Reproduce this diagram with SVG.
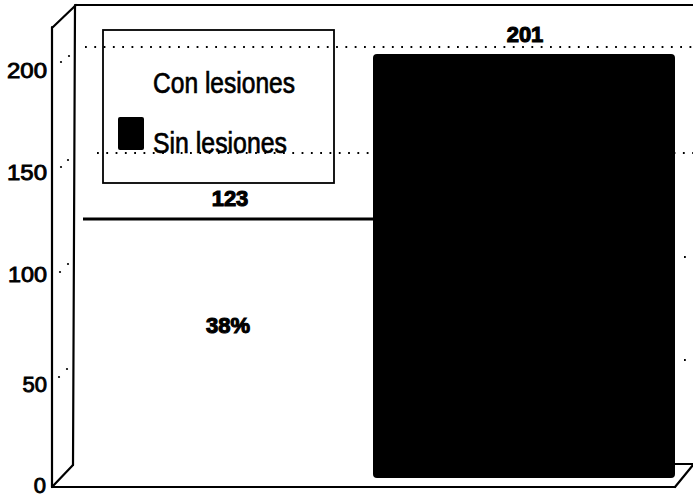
<svg xmlns="http://www.w3.org/2000/svg" width="693" height="497" viewBox="0 0 693 497">
<style>
.frame{fill:none;stroke:#000;stroke-width:2.2;stroke-linecap:round}
.grid{fill:none;stroke:#000;stroke-width:1.8;stroke-dasharray:1.8 7.5}
.tick{fill:#000}
.axis{font-family:"Liberation Sans",Arial,sans-serif;font-size:22px;fill:#000;stroke:#000;stroke-width:0.9;text-anchor:end}
.val{font-family:"Liberation Sans",Arial,sans-serif;font-size:22px;font-weight:bold;fill:#000;stroke:#000;stroke-width:1.1;text-anchor:middle}
.leg{font-family:"Liberation Sans",Arial,sans-serif;font-size:29px;fill:#000;stroke:#000;stroke-width:0.7}
</style>
<rect width="693" height="497" fill="#fff"/>
<g id="frame">
<line class="frame" x1="76" y1="5" x2="693" y2="5"/>
<line class="frame" x1="53" y1="27" x2="76" y2="5"/>
<line class="frame" x1="52" y1="27" x2="52" y2="487"/>
<line class="frame" x1="75" y1="5" x2="73" y2="465"/>
<line class="frame" x1="52" y1="487" x2="73" y2="465"/>
<line class="frame" x1="52" y1="487" x2="675" y2="487"/>
<line class="frame" x1="675" y1="487" x2="693" y2="465"/>
<line class="frame" x1="673" y1="464" x2="693" y2="464"/>
</g>
<g id="gridlines">
<line class="grid" x1="85" y1="47" x2="693" y2="47"/>
<line class="grid" x1="97" y1="153" x2="693" y2="153"/>
<line class="grid" x1="684" y1="257" x2="693" y2="257"/>
<line class="grid" x1="684" y1="360" x2="693" y2="360"/>
<circle class="tick" cx="61" cy="62" r="1.1"/><circle class="tick" cx="69" cy="56" r="1.1"/>
<circle class="tick" cx="61" cy="167" r="1.1"/><circle class="tick" cx="68" cy="160" r="1.1"/>
<circle class="tick" cx="60" cy="272" r="1.1"/><circle class="tick" cx="68" cy="264" r="1.1"/>
<circle class="tick" cx="59" cy="377" r="1.1"/><circle class="tick" cx="67" cy="369" r="1.1"/>
</g>
<g id="y-axis-labels">
<text class="axis" x="47" y="78" textLength="40" lengthAdjust="spacingAndGlyphs">200</text>
<text class="axis" x="47" y="180" textLength="40" lengthAdjust="spacingAndGlyphs">150</text>
<text class="axis" x="47" y="282" textLength="39" lengthAdjust="spacingAndGlyphs">100</text>
<text class="axis" x="47" y="392">50</text>
<text class="axis" x="46" y="493">0</text>
</g>
<g id="bar-con-lesiones">
<line x1="83" y1="219" x2="373" y2="219" stroke="#000" stroke-width="2.8"/>
<text class="val" x="230" y="206">123</text>
<text class="val" x="228" y="333">38%</text>
</g>
<g id="bar-sin-lesiones">
<rect x="373" y="54" width="302" height="424" rx="4" fill="#000"/>
<text class="val" x="525" y="42">201</text>
</g>
<g id="legend">
<rect x="103" y="30" width="231" height="153" fill="none" stroke="#000" stroke-width="1.8"/>
<text class="leg" x="153" y="93" textLength="142" lengthAdjust="spacingAndGlyphs">Con lesiones</text>
<rect x="118" y="117" width="26" height="33" rx="2" fill="#000"/>
<text class="leg" x="153" y="153" textLength="134" lengthAdjust="spacingAndGlyphs">Sin lesiones</text>
</g>
</svg>
